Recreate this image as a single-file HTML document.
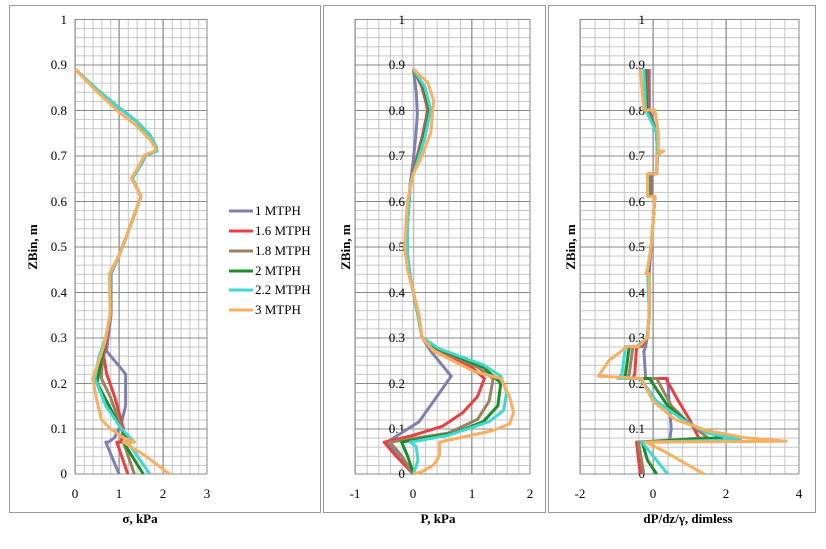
<!DOCTYPE html>
<html><head><meta charset="utf-8"><style>
html,body{margin:0;padding:0;background:#fff;}
svg{display:block;font-family:"Liberation Serif",serif;}
.t{font-size:13px;fill:#000;}
.b{font-size:13px;font-weight:bold;fill:#000;}
.d{fill:none;stroke-width:3;stroke-linejoin:round;vector-effect:non-scaling-stroke;}
</style></head><body>
<svg width="826" height="549" viewBox="0 0 826 549">
<defs>
<pattern id="g1" x="75" y="19" width="8.8" height="9.1" patternUnits="userSpaceOnUse"><path d="M0.5 0V9.1M0 0.5H8.8" stroke="#c4c4c4" stroke-width="1" fill="none"/></pattern>
<pattern id="g2" x="355" y="19" width="11.667" height="9.1" patternUnits="userSpaceOnUse"><path d="M0.5 0V9.1M0 0.5H11.667" stroke="#c4c4c4" stroke-width="1" fill="none"/></pattern>
<pattern id="g3" x="580" y="19" width="14.6" height="9.1" patternUnits="userSpaceOnUse"><path d="M0.5 0V9.1M0 0.5H14.6" stroke="#c4c4c4" stroke-width="1" fill="none"/></pattern>
</defs>
<rect x="9.5" y="5.5" width="311" height="507" fill="none" stroke="#999"/>
<rect x="323.5" y="5.5" width="222" height="507" fill="none" stroke="#999"/>
<rect x="548.5" y="5.5" width="267" height="507" fill="none" stroke="#999"/>

<!-- panel 1 -->
<rect x="75" y="19" width="132" height="455" fill="url(#g1)"/>
<g stroke="#888" stroke-width="1">
<path d="M75 19.5H207M75 65H207M75 110.5H207M75 156H207M75 201.5H207M75 247H207M75 292.5H207M75 338H207M75 383.5H207M75 429H207M75 474H207"/>
<path d="M75 19V474M119 19V474M163 19V474M207 19V474"/>
</g>
<g class="t" text-anchor="end">
<text x="67" y="24">1</text><text x="67" y="69">0.9</text><text x="67" y="115">0.8</text><text x="67" y="160">0.7</text><text x="67" y="206">0.6</text><text x="67" y="251">0.5</text><text x="67" y="297">0.4</text><text x="67" y="342">0.3</text><text x="67" y="388">0.2</text><text x="67" y="433">0.1</text><text x="67" y="478">0</text>
</g>
<g class="t" text-anchor="middle"><text x="75" y="498">0</text><text x="119" y="498">1</text><text x="163" y="498">2</text><text x="207" y="498">3</text></g>
<text class="b" x="140" y="523" text-anchor="middle">σ, kPa</text>
<text class="b" transform="translate(37,247) rotate(-90)" text-anchor="middle">ZBin, m</text>
<g transform="translate(75,474) scale(44,-455)">
<path class="d" stroke="#8080b0" d="M0 .89 .5 .845 1 .805 1.4 .775 1.7 .745 1.84 .72 1.86 .71 1.6 .7 1.5 .68 1.3 .65 1.45 .62 1.5 .61 1.2 .53 1 .48 .82 .44 .82 .35 .75 .3 .72 .27 1.15 .22 1.15 .15 1.05 .11 .9 .08 .76 .07 .7 .07 1 0"/>
<path class="d" stroke="#e84040" d="M0 .89 .5 .845 1 .805 1.4 .775 1.7 .745 1.84 .72 1.86 .71 1.6 .7 1.5 .68 1.3 .65 1.45 .62 1.5 .61 1.2 .53 1 .48 .8 .44 .8 .35 .72 .3 .68 .27 .65 .26 .72 .22 .9 .17 1.1 .1 1.05 .07 .95 .07 1.2 0"/>
<path class="d" stroke="#9c8060" d="M0 .89 .5 .845 1 .805 1.4 .775 1.7 .745 1.84 .72 1.86 .71 1.6 .7 1.5 .68 1.3 .65 1.45 .62 1.5 .61 1.2 .53 1 .48 .8 .44 .8 .35 .7 .3 .62 .25 .6 .21 .8 .17 1.1 .09 1.2 .07 1.1 .07 1.35 0"/>
<path class="d" stroke="#1a8c2a" d="M0 .89 .5 .845 1 .805 1.4 .775 1.7 .745 1.84 .72 1.86 .71 1.6 .7 1.5 .68 1.3 .65 1.45 .62 1.5 .61 1.2 .53 1 .48 .8 .44 .8 .35 .7 .3 .56 .23 .5 .2 1.1 .09 1.3 .07 1.1 .07 1.55 0"/>
<path class="d" stroke="#40d8d0" d="M0 .89 .5 .845 1 .805 1.4 .775 1.7 .745 1.84 .72 1.86 .71 1.6 .7 1.5 .68 1.3 .65 1.45 .62 1.5 .61 1.2 .53 1 .48 .8 .44 .8 .35 .7 .3 .55 .26 .45 .21 .7 .15 1.05 .1 1.35 .07 1.2 .07 1.7 0"/>
<path class="d" stroke="#f8b060" d="M0 .89 .5 .84 1 .795 1.4 .765 1.7 .735 1.84 .715 1.8 .71 1.57 .7 1.47 .68 1.28 .65 1.45 .62 1.5 .61 1.2 .53 1 .48 .78 .44 .8 .35 .68 .29 .55 .25 .4 .21 .5 .16 .6 .12 .8 .1 1.1 .08 1.35 .07 1.1 .07 1.6 .04 2.15 0"/>
</g>
<!-- legend -->
<g stroke-width="3">
<line x1="229" y1="211" x2="253" y2="211" stroke="#8080b0"/>
<line x1="229" y1="231" x2="253" y2="231" stroke="#e84040"/>
<line x1="229" y1="251" x2="253" y2="251" stroke="#9c8060"/>
<line x1="229" y1="271" x2="253" y2="271" stroke="#1a8c2a"/>
<line x1="229" y1="290" x2="253" y2="290" stroke="#40d8d0"/>
<line x1="229" y1="310" x2="253" y2="310" stroke="#f8b060"/>
</g>
<g class="t"><text x="255" y="215">1 MTPH</text><text x="255" y="235">1.6 MTPH</text><text x="255" y="255">1.8 MTPH</text><text x="255" y="275">2 MTPH</text><text x="255" y="294">2.2 MTPH</text><text x="255" y="314">3 MTPH</text></g>

<!-- panel 2 -->
<rect x="355" y="19" width="175" height="455" fill="url(#g2)"/>
<g stroke="#888" stroke-width="1">
<path d="M355 19.5H530M355 65H530M355 110.5H530M355 156H530M355 201.5H530M355 247H530M355 292.5H530M355 338H530M355 383.5H530M355 429H530M355 474H530"/>
<path d="M355 19V474M471.7 19V474M530 19V474"/>
</g>
<path d="M413.3 19V474" stroke="#bbb" stroke-width="1"/>
<g class="t" text-anchor="end">
<text x="405" y="24">1</text><text x="405" y="69">0.9</text><text x="405" y="115">0.8</text><text x="405" y="160">0.7</text><text x="405" y="206">0.6</text><text x="405" y="251">0.5</text><text x="405" y="297">0.4</text><text x="405" y="342">0.3</text><text x="405" y="388">0.2</text><text x="405" y="433">0.1</text><text x="405" y="478">0</text>
</g>
<g class="t" text-anchor="middle"><text x="355" y="498">-1</text><text x="413" y="498">0</text><text x="472" y="498">1</text><text x="530" y="498">2</text></g>
<text class="b" x="438" y="523" text-anchor="middle">P, kPa</text>
<text class="b" transform="translate(350,247) rotate(-90)" text-anchor="middle">ZBin, m</text>
<g transform="translate(413.3,474) scale(58.33,-455)">
<path class="d" stroke="#8080b0" d="M0 .89 .05 .84 .07 .79 .04 .74 0 .69 -.05 .64 -.1 .55 -.1 .48 -.05 .43 0 .4 .08 .35 .15 .3 .3 .27 .65 .215 .1 .115 -.45 .07 -.2 .035 0 0"/>
<path class="d" stroke="#e84040" d="M0 .89 .15 .85 .25 .8 .15 .74 .05 .69 -.05 .64 -.1 .55 -.1 .48 -.05 .43 0 .4 .08 .35 .15 .3 .4 .275 1.0 .235 1.22 .21 1.1 .17 .85 .135 .5 .105 0 .085 -.5 .07 -.3 .04 0 0"/>
<path class="d" stroke="#9c8060" d="M0 .89 .17 .85 .27 .8 .17 .74 .06 .69 -.05 .64 -.1 .55 -.1 .48 -.05 .43 0 .4 .08 .35 .15 .3 .4 .275 1.1 .235 1.37 .21 1.3 .16 1.1 .12 .6 .09 -.4 .07 -.2 .04 0 0"/>
<path class="d" stroke="#1a8c2a" d="M0 .89 .18 .85 .28 .8 .18 .74 .07 .69 -.05 .64 -.1 .55 -.1 .48 -.05 .43 0 .4 .08 .35 .15 .3 .42 .275 1.2 .235 1.5 .2 1.45 .15 1.2 .115 .7 .09 -.2 .07 -.1 .04 -.02 .01 0 0"/>
<path class="d" stroke="#40d8d0" d="M0 .89 .2 .85 .3 .8 .2 .74 .08 .69 -.05 .64 -.1 .55 -.1 .48 -.05 .43 0 .4 .08 .35 .15 .3 .45 .275 1.2 .24 1.5 .215 1.6 .18 1.55 .14 1.3 .115 .6 .085 -.05 .07 .05 .06 .08 .03 0 0"/>
<path class="d" stroke="#f8b060" d="M0 .89 .25 .86 .35 .82 .3 .75 .12 .69 0 .66 -.1 .6 -.15 .5 -.1 .45 0 .4 .1 .35 .15 .3 .35 .27 1.05 .225 1.5 .21 1.65 .17 1.72 .135 1.65 .11 1.35 .095 .45 .07 .45 .04 .35 .02 .15 .005 0 0"/>
</g>

<!-- panel 3 -->
<rect x="580" y="19" width="219" height="455" fill="url(#g3)"/>
<g stroke="#888" stroke-width="1">
<path d="M580 19.5H799M580 65H799M580 110.5H799M580 156H799M580 201.5H799M580 247H799M580 292.5H799M580 338H799M580 383.5H799M580 429H799M580 474H799"/>
<path d="M580 19V474M653 19V474M726 19V474M799 19V474"/>
</g>
<g class="t" text-anchor="end">
<text x="645" y="24">1</text><text x="645" y="69">0.9</text><text x="645" y="115">0.8</text><text x="645" y="160">0.7</text><text x="645" y="206">0.6</text><text x="645" y="251">0.5</text><text x="645" y="297">0.4</text><text x="645" y="342">0.3</text><text x="645" y="388">0.2</text><text x="645" y="433">0.1</text><text x="645" y="478">0</text>
</g>
<g class="t" text-anchor="middle"><text x="580" y="498">-2</text><text x="653" y="498">0</text><text x="726" y="498">2</text><text x="799" y="498">4</text></g>
<text class="b" x="688" y="523" text-anchor="middle">dP/dz/γ, dimless</text>
<text class="b" transform="translate(575,247) rotate(-90)" text-anchor="middle">ZBin, m</text>
<g transform="translate(653,474) scale(36.5,-455)">
<path class="d" stroke="#8080b0" d="M-.1 .89 -.1 .8 .1 .75 .12 .7 .1 .66 -.05 .66 -.05 .61 .05 .61 0 .55 -.05 .5 -.1 .45 -.1 .35 -.15 .31 -.2 .28 -.25 .27 -.2 .21 .4 .21 .45 .15 .5 .1 .45 .07 -.4 .07 -.3 0"/>
<path class="d" stroke="#e84040" d="M-.15 .89 -.12 .8 .1 .75 .12 .7 .1 .66 -.08 .66 -.08 .61 .05 .61 0 .55 -.05 .5 -.12 .45 -.1 .35 -.15 .3 -.3 .28 -.45 .28 -.5 .22 -.55 .21 .35 .21 .7 .16 1.0 .12 1.25 .08 1.3 .075 -.45 .07 -.35 0"/>
<path class="d" stroke="#9c8060" d="M-.2 .89 -.15 .8 .1 .75 .12 .7 .1 .66 -.1 .66 -.1 .61 .05 .61 0 .55 -.05 .5 -.13 .45 -.1 .35 -.15 .3 -.35 .28 -.55 .28 -.65 .22 -.7 .21 .1 .21 .5 .15 1.0 .11 1.5 .08 -.4 .07 -.25 0"/>
<path class="d" stroke="#1a8c2a" d="M-.22 .89 -.17 .8 .1 .75 .12 .7 .1 .66 -.12 .66 -.12 .61 .05 .61 0 .55 -.05 .5 -.14 .45 -.1 .35 -.15 .3 -.4 .28 -.65 .28 -.75 .22 -.8 .21 -.1 .21 .4 .15 1.0 .11 1.9 .08 -.3 .07 -.15 .03 .1 0"/>
<path class="d" stroke="#40d8d0" d="M-.25 .89 -.2 .8 .1 .75 .12 .7 .1 .66 -.14 .66 -.14 .61 .05 .61 0 .55 -.05 .5 -.15 .45 -.1 .35 -.15 .3 -.45 .28 -.75 .28 -.85 .22 -.95 .21 -.35 .21 .1 .16 .8 .12 1.5 .09 2.4 .075 -.3 .07 .0 .04 .4 0"/>
<path class="d" stroke="#f8b060" d="M-.35 .89 -.25 .8 .05 .8 .15 .75 .15 .71 .3 .71 .1 .7 .1 .66 -.15 .66 -.15 .61 .05 .61 0 .55 -.05 .5 -.15 .45 -.2 .44 -.1 .44 -.1 .35 -.15 .3 -.4 .28 -.7 .28 -1.2 .25 -1.5 .215 -.3 .21 -.2 .19 0 .16 .6 .12 1.5 .095 2.5 .08 3.65 .072 -.2 .07 .3 .05 1.4 0"/>
</g>
</svg>
</body></html>
